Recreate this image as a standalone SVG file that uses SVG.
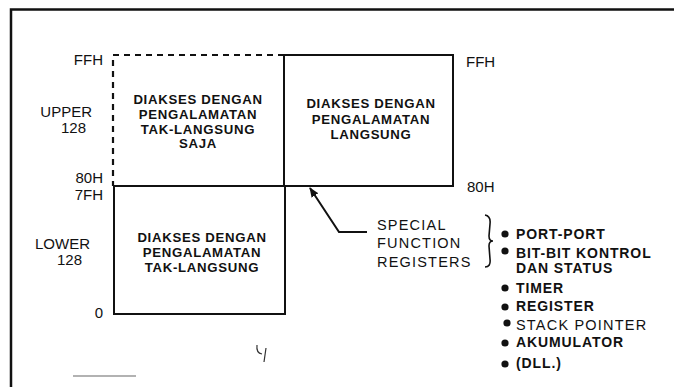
<svg xmlns="http://www.w3.org/2000/svg" width="674" height="387" viewBox="0 0 674 387">
<defs>
<style>
.ln{fill:none;stroke:#111;stroke-width:2}
.dash{fill:none;stroke:#111;stroke-width:2.2;stroke-dasharray:6 5}
.lbl{font-family:"Liberation Sans",Arial,sans-serif;font-size:15px;fill:#111}
.sf{font-family:"Liberation Sans",Arial,sans-serif;font-size:14.5px;fill:#111;letter-spacing:1.2px}
.box{font-family:"Liberation Sans",Arial,sans-serif;font-size:13.2px;font-weight:bold;fill:#111;text-anchor:middle;letter-spacing:0.7px}
.bul{font-family:"Liberation Sans",Arial,sans-serif;font-size:14px;font-weight:bold;fill:#111;letter-spacing:0.9px}
.r{text-anchor:end}
</style>
<marker id="ah" viewBox="0 0 10 10" refX="9" refY="5" markerWidth="10" markerHeight="10" markerUnits="userSpaceOnUse" orient="auto">
<path d="M0,1 L10,5 L0,9 Z" fill="#111"/>
</marker>
</defs>
<rect width="674" height="387" fill="#fff"/>
<path d="M11,387 V9.5 H674" fill="none" stroke="#111" stroke-width="2.5"/>

<g id="upper-indirect">
<path class="dash" d="M284,55 H113 V186"/>
<text class="box" x="198" y="104">DIAKSES DENGAN</text>
<text class="box" x="198" y="118.5">PENGALAMATAN</text>
<text class="box" x="198" y="133.5">TAK-LANGSUNG</text>
<text class="box" x="198" y="148">SAJA</text>
</g>

<g id="upper-direct">
<path class="ln" d="M284,55 H453 V186 H113"/>
<path class="ln" d="M284,55 V186"/>
<text class="box" x="371" y="108">DIAKSES DENGAN</text>
<text class="box" x="371" y="124">PENGALAMATAN</text>
<text class="box" x="371" y="139">LANGSUNG</text>
</g>

<g id="lower">
<path class="ln" d="M114,186 V314 H285 V186"/>
<text class="box" x="202" y="242">DIAKSES DENGAN</text>
<text class="box" x="202" y="257">PENGALAMATAN</text>
<text class="box" x="202" y="272">TAK-LANGSUNG</text>
</g>

<g id="addr-labels">
<text class="lbl r" x="103" y="65">FFH</text>
<text class="lbl r" x="92" y="117">UPPER</text>
<text class="lbl r" x="86" y="133">128</text>
<text class="lbl r" x="103" y="183">80H</text>
<text class="lbl r" x="103" y="200">7FH</text>
<text class="lbl r" x="90" y="249">LOWER</text>
<text class="lbl r" x="82" y="265">128</text>
<text class="lbl r" x="103" y="318">0</text>
<text class="lbl" x="466" y="67">FFH</text>
<text class="lbl" x="467" y="192">80H</text>
</g>

<g id="connectors">
<path class="ln" d="M367,232 H339 L310,188" stroke-width="1.6" marker-end="url(#ah)"/>
</g>

<g id="sfr">
<text class="sf" x="377" y="230">SPECIAL</text>
<text class="sf" x="377" y="248">FUNCTION</text>
<text class="sf" x="377" y="267">REGISTERS</text>
<path d="M485,215 Q491,216 490,224 L489,236 Q489,241 493,241 Q489,241 489,246 L490,259 Q491,267 485,267" fill="none" stroke="#111" stroke-width="1.6"/>
</g>

<g id="sfr-list">
<circle cx="505" cy="234" r="3.6" fill="#111"/>
<text class="bul" x="516" y="239">PORT-PORT</text>
<circle cx="505" cy="251" r="3.6" fill="#111"/>
<text class="bul" x="516" y="258">BIT-BIT KONTROL</text>
<text class="bul" x="516" y="273">DAN STATUS</text>
<circle cx="505" cy="288" r="3.6" fill="#111"/>
<text class="bul" x="516" y="293">TIMER</text>
<circle cx="505" cy="307" r="3.6" fill="#111"/>
<text class="bul" x="516" y="311">REGISTER</text>
<circle cx="507" cy="323" r="3.6" fill="#111"/>
<text class="sf" x="516" y="330">STACK POINTER</text>
<circle cx="505" cy="343" r="3.6" fill="#111"/>
<text class="bul" x="516" y="347">AKUMULATOR</text>
<circle cx="505" cy="364" r="3.6" fill="#111"/>
<text class="bul" x="516" y="368">(DLL.)</text>
</g>

<path d="M257,345 Q256,353 262,354 M266,348 L264,362" fill="none" stroke="#333" stroke-width="1.2"/>
<path d="M73,376 H136" stroke="#999" stroke-width="1.5"/>
</svg>
